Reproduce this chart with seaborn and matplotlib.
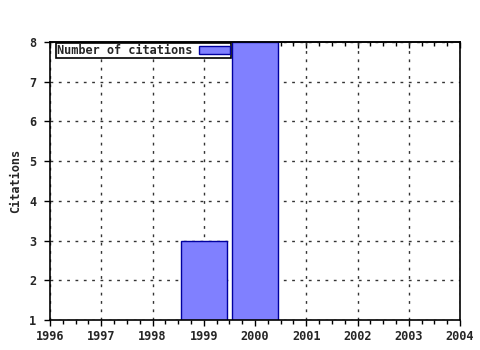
import matplotlib
matplotlib.use("Agg")
import matplotlib.pyplot as plt
import seaborn as sns
import pandas as pd
from matplotlib.ticker import MultipleLocator

years = [1999, 2000]
citations = [3, 8]
series_label = "Number of citations"
y_label = "Citations"

sns.set_style("white")
plt.rcParams['font.family'] = ['DejaVu Sans Mono']
plt.rcParams['font.weight'] = 'bold'

FS = 8.6

df = pd.DataFrame({"year": years, "citations": citations})

fig = plt.figure(figsize=(4.8, 3.5), dpi=100)
ax = fig.add_axes([50/480, 1-320/350, 410/480, 278/350])

sns.barplot(data=df, x="year", y="citations", native_scale=True, width=0.9,
            color="#8080ff", saturation=1, edgecolor="#0000a0", linewidth=1.0,
            label=series_label, ax=ax, zorder=2)

ax.set_xlim(1996, 2004)
ax.set_ylim(1, 8)
ax.xaxis.set_major_locator(MultipleLocator(1))
ax.xaxis.set_minor_locator(MultipleLocator(0.25))
ax.yaxis.set_major_locator(MultipleLocator(1))
ax.set_xticklabels([str(int(t)) for t in ax.get_xticks()])
ax.set_xlabel("")
ax.set_ylabel(y_label, fontsize=FS, fontweight='bold', labelpad=5)

ax.grid(True, which='major', linestyle=(0, (2, 4)), color='#333333', linewidth=1.0, zorder=0)
ax.set_axisbelow(True)
for s in ax.spines.values():
    s.set_color('black')
    s.set_linewidth(1.2)

ax.tick_params(axis='x', which='both', bottom=True, top=False, direction='out', color='black', width=1)
ax.tick_params(axis='x', which='major', length=4, labelsize=FS, pad=3)
ax.tick_params(axis='x', which='minor', length=3)
ax.tick_params(axis='y', which='major', left=True, right=False, direction='out', length=4, width=1, labelsize=FS, pad=6, color='black')
for lab in ax.get_xticklabels() + ax.get_yticklabels():
    lab.set_fontweight('bold')

top = ax.secondary_xaxis('top')
top.xaxis.set_major_locator(MultipleLocator(1))
top.xaxis.set_minor_locator(MultipleLocator(0.25))
top.tick_params(axis='x', which='both', direction='in', labeltop=False, color='black', width=1)
top.tick_params(axis='x', which='major', length=4)
top.tick_params(axis='x', which='minor', length=3)
top.spines['top'].set_linewidth(1.2)

leg = ax.legend(loc='upper left', bbox_to_anchor=(6/410, 1.0 - 1/278), borderaxespad=0,
                markerfirst=False, fancybox=False, framealpha=1, edgecolor='black',
                prop={'size': FS, 'weight': 'bold'}, handlelength=2.6, handleheight=0.6,
                borderpad=0.1, handletextpad=0.5)
leg.get_frame().set_linewidth(1.2)
leg.set_zorder(5)

fig.savefig("out.png", dpi=100)
